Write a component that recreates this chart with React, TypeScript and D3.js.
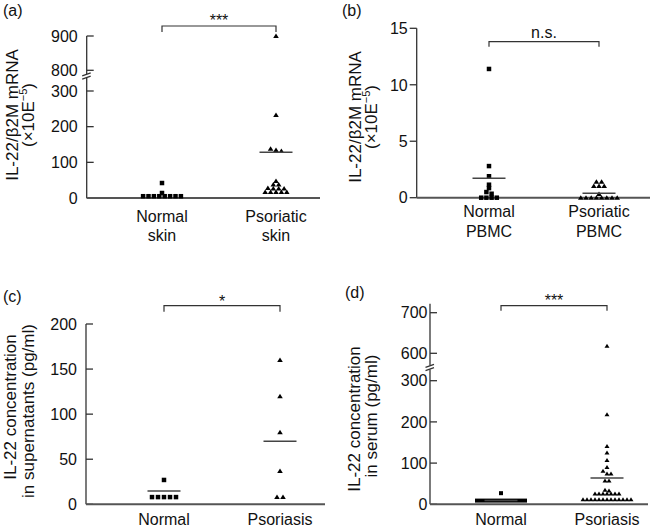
import React from 'react';
import * as d3 from 'd3';

const FONT = '"Liberation Sans", Arial, Helvetica, sans-serif';

// ---------- (a) skin mRNA ----------
const skinCategories = ['Normal skin', 'Psoriatic skin'];
const skinLabels = [['Normal', 'skin'], ['Psoriatic', 'skin']];
const skinNormal = [42, 14, 5, 5, 5, 5, 5, 5, 5, 5];
const skinPsoriatic = [900, 233, 138, 135, 132, 48, 38, 38, 28, 27, 27, 27, 17, 17, 17, 17, 17];
const skinMeans = [null, 128];
const skinTicksLow = [0, 100, 200, 300];
const skinTicksHigh = [800, 900];

// ---------- (b) PBMC mRNA ----------
const pbmcCategories = ['Normal PBMC', 'Psoriatic PBMC'];
const pbmcLabels = [['Normal', 'PBMC'], ['Psoriatic', 'PBMC']];
const pbmcNormal = [11.4, 2.8, 1.9, 1.15, 0.85, 0.5, 0.35, 0, 0, 0, 0];
const pbmcPsoriatic = [1.42, 1.42, 1.03, 1.03, 1.03, 0.33, 0, 0, 0, 0, 0, 0, 0, 0];
const pbmcMeans = [1.72, 0.39];
const pbmcTicks = [0, 5, 10, 15];

// ---------- (c) supernatants ----------
const supCategories = ['Normal', 'Psoriasis'];
const supLabels = [['Normal'], ['Psoriasis']];
const supNormal = [27, 8, 8, 8, 8, 8];
const supPsoriasis = [160, 120, 80, 37, 8, 8];
const supMeans = [14.8, 70];
const supTicks = [0, 50, 100, 150, 200];

// ---------- (d) serum ----------
const serumCategories = ['Normal', 'Psoriasis'];
const serumLabels = [['Normal'], ['Psoriasis']];
const serumNormal = [27, 9, 9, 9, 9, 9, 9, 9, 9, 9, 9, 9, 9, 9];
const serumPsoriasis = [618, 218, 141, 125, 107, 90, 81, 74, 74, 57, 57, 35, 33,
  26, 26, 26, 26, 26, 26, 26,
  12, 12, 12, 12, 12, 12, 12, 12, 12, 12, 12, 12, 12];
const serumMeans = [9.5, 64];
const serumTicksLow = [0, 100, 200, 300];
const serumTicksHigh = [600, 700];

const panels = [
  {
    title: '(a)', titlePos: [3, 16],
    categories: skinCategories, labels: skinLabels, labelY: [222, 241],
    groups: [skinNormal, skinPsoriatic], shapes: ['square', 'triangle'], means: skinMeans,
    xRange: [162, 276], axisX: 86.7, axisEnd: 320, axisTop: 36,
    lowDomain: [0, 300], lowRange: [198, 91], highDomain: [800, 900], highRange: [70.3, 36],
    breakY: [74, 78],
    ticksLow: skinTicksLow, ticksHigh: skinTicksHigh, tickDir: 1, labelGap: 9,
    yLabel: [
      { parts: [{ t: 'IL-22/β2M mRNA' }], x: 17.5, y: 115 },
      { parts: [{ t: '(×10E' }, { t: '−5', sup: true }, { t: ')' }], x: 33.5, y: 115 },
    ],
    bracket: { y: 26, drop: 6, text: '***', textY: 25.5 },
    spacing: 5.4, size: 4.5,
  },
  {
    title: '(b)', titlePos: [342, 16],
    categories: pbmcCategories, labels: pbmcLabels, labelY: [217, 236.5],
    groups: [pbmcNormal, pbmcPsoriatic], shapes: ['square', 'triangle'], means: pbmcMeans,
    xRange: [489, 599], axisX: 416.7, axisEnd: 650, axisTop: 28.3,
    lowDomain: [0, 15], lowRange: [197.7, 28.3],
    ticksLow: pbmcTicks, tickDir: -1, labelGap: 9,
    yLabel: [
      { parts: [{ t: 'IL-22/β2M mRNA' }], x: 360.5, y: 117 },
      { parts: [{ t: '(×10E' }, { t: '−5', sup: true }, { t: ')' }], x: 376.5, y: 117 },
    ],
    bracket: { y: 41.7, drop: 5, text: 'n.s.', textY: 38 },
    spacing: 5.2, size: 4.5,
  },
  {
    title: '(c)', titlePos: [3, 302],
    categories: supCategories, labels: supLabels, labelY: [524.5],
    groups: [supNormal, supPsoriasis], shapes: ['square', 'triangle'], means: supMeans,
    xRange: [164, 280], axisX: 86, axisEnd: 325, axisTop: 324,
    lowDomain: [0, 200], lowRange: [504.3, 324],
    ticksLow: supTicks, tickDir: 1, labelGap: 9,
    yLabel: [
      { parts: [{ t: 'IL-22 concentration' }], x: 16, y: 407 },
      { parts: [{ t: 'in supernatants (pg/ml)' }], x: 33.5, y: 411 },
    ],
    bracket: { y: 305.7, drop: 6, text: '*', textY: 306.5 },
    spacing: 6, size: 4.5,
  },
  {
    title: '(d)', titlePos: [345, 297.5],
    categories: serumCategories, labels: serumLabels, labelY: [524.5],
    groups: [serumNormal, serumPsoriasis], shapes: ['square', 'triangle'], means: serumMeans,
    xRange: [501, 607], axisX: 430, axisEnd: 648, axisTop: 303.7,
    lowDomain: [0, 300], lowRange: [504.3, 380.7], highDomain: [600, 700], highRange: [353.3, 312.7],
    breakY: [365.5, 369.5],
    ticksLow: serumTicksLow, ticksHigh: serumTicksHigh, tickDir: 1, labelGap: 2.5,
    yLabel: [
      { parts: [{ t: 'IL-22 concentration' }], x: 359.5, y: 419 },
      { parts: [{ t: 'in serum (pg/ml)' }], x: 376.5, y: 416 },
    ],
    bracket: { y: 305.7, drop: 5, text: '***', textY: 305.5 },
    spacing: 4, size: 4,
  },
];

function swarm(values, y, cx, spacing, thr) {
  const sorted = values.slice().sort((a, b) => b - a);
  const rows = [];
  let cur = null;
  for (const v of sorted) {
    const py = y(v);
    if (cur && Math.abs(py - cur.y0) < thr) cur.items.push(v);
    else { cur = { y0: py, items: [v] }; rows.push(cur); }
  }
  const out = [];
  rows.forEach((r) => {
    const n = r.items.length;
    r.items.forEach((v, i) => out.push({ v, x: cx + (i - (n - 1) / 2) * spacing, y: y(v) }));
  });
  return out;
}

function markerPath(shape, x, y, s) {
  const h = s / 2;
  if (shape === 'square') return `M${x - h},${y - h}h${s}v${s}h${-s}Z`;
  const w = s * 0.62;
  return `M${x},${y - s * 0.55}L${x + w},${y + s * 0.45}L${x - w},${y + s * 0.45}Z`;
}

function Panel({ c }) {
  const low = d3.scaleLinear().domain(c.lowDomain).range(c.lowRange);
  const high = c.highDomain ? d3.scaleLinear().domain(c.highDomain).range(c.highRange) : null;
  const y = (v) => (high && v > c.lowDomain[1] ? high(v) : low(v));
  const x = d3.scalePoint().domain(c.categories).range(c.xRange);
  const baseY = low(0);
  const fmt = d3.format('d');
  const ticks = [...c.ticksLow.map((t) => ({ t, py: low(t) })), ...(high ? c.ticksHigh.map((t) => ({ t, py: high(t) })) : [])];
  const tickLen = 7;
  const ax = c.axisX;
  const x1 = x(c.categories[0]);
  const x2 = x(c.categories[1]);
  const b = c.bracket;

  return (
    <g>
      <text x={c.titlePos[0]} y={c.titlePos[1]} fontSize={16} fontFamily={FONT} fill="#111">{c.title}</text>
      {c.breakY ? (
        <g stroke="#333" strokeWidth={1.3}>
          <line x1={ax} x2={ax} y1={c.axisTop} y2={c.breakY[0]} />
          <line x1={ax} x2={ax} y1={c.breakY[1]} y2={baseY} />
          <line x1={ax - 4.5} x2={ax + 4} y1={c.breakY[0] + 1.8} y2={c.breakY[0] - 1.2} />
          <line x1={ax - 4.5} x2={ax + 4} y1={c.breakY[1] + 1.2} y2={c.breakY[1] - 1.8} />
        </g>
      ) : (
        <line x1={ax} x2={ax} y1={c.axisTop} y2={baseY} stroke="#333" strokeWidth={1.3} />
      )}
      {ticks.map((d) => (
        <g key={'t' + d.t}>
          <line x1={ax} x2={ax + c.tickDir * tickLen} y1={d.py} y2={d.py} stroke="#333" strokeWidth={1.3} />
          <text x={ax - c.labelGap} y={d.py} dy="0.36em" textAnchor="end" fontSize={16} fontFamily={FONT} fill="#111">{fmt(d.t)}</text>
        </g>
      ))}
      <line x1={ax} x2={c.axisEnd} y1={baseY} y2={baseY} stroke="#555" strokeWidth={2} />
      {c.yLabel.map((l, i) => (
        <text key={'yl' + i} transform={`translate(${l.x},${l.y}) rotate(-90)`} textAnchor="middle" fontSize={17} fontFamily={FONT} fill="#111">
          {l.parts.map((p, j) => p.sup
            ? <tspan key={j} fontSize={11} dy="-0.55em">{p.t}</tspan>
            : <tspan key={j} dy={j > 0 && l.parts[j - 1].sup ? '0.36em' : undefined}>{p.t}</tspan>)}
        </text>
      ))}
      {c.categories.map((cat, i) => c.labels[i].map((ln, k) => (
        <text key={cat + k} x={x(cat)} y={c.labelY[k]} textAnchor="middle" fontSize={16} fontFamily={FONT} fill="#111">{ln}</text>
      )))}
      <path d={`M${x1},${b.y + b.drop}V${b.y}H${x2}V${b.y + b.drop}`} fill="none" stroke="#333" strokeWidth={1.2} />
      <text x={(x1 + x2) / 2} y={b.textY} textAnchor="middle" fontSize={16} fontFamily={FONT} fill="#111">{b.text}</text>
      {c.groups.map((vals, gi) => {
        const cx = x(c.categories[gi]);
        const pts = swarm(vals, y, cx, c.spacing, 3);
        return (
          <g key={'g' + gi} fill="#000">
            {pts.map((p, k) => <path key={k} d={markerPath(c.shapes[gi], p.x, p.y, c.size)} />)}
          </g>
        );
      })}
      {c.means.map((m, gi) => m == null ? null : (
        <line key={'m' + gi} x1={x(c.categories[gi]) - 16.5} x2={x(c.categories[gi]) + 16.5} y1={y(m)} y2={y(m)} stroke="#444" strokeWidth={1.5} />
      ))}
    </g>
  );
}

export default function App() {
  return (
    <svg width={650} height={528} style={{ position: 'absolute', left: 0, top: 0, background: '#fff' }}>
      <rect width={650} height={528} fill="#fff" />
      {panels.map((p, i) => <Panel key={i} c={p} />)}
    </svg>
  );
}
